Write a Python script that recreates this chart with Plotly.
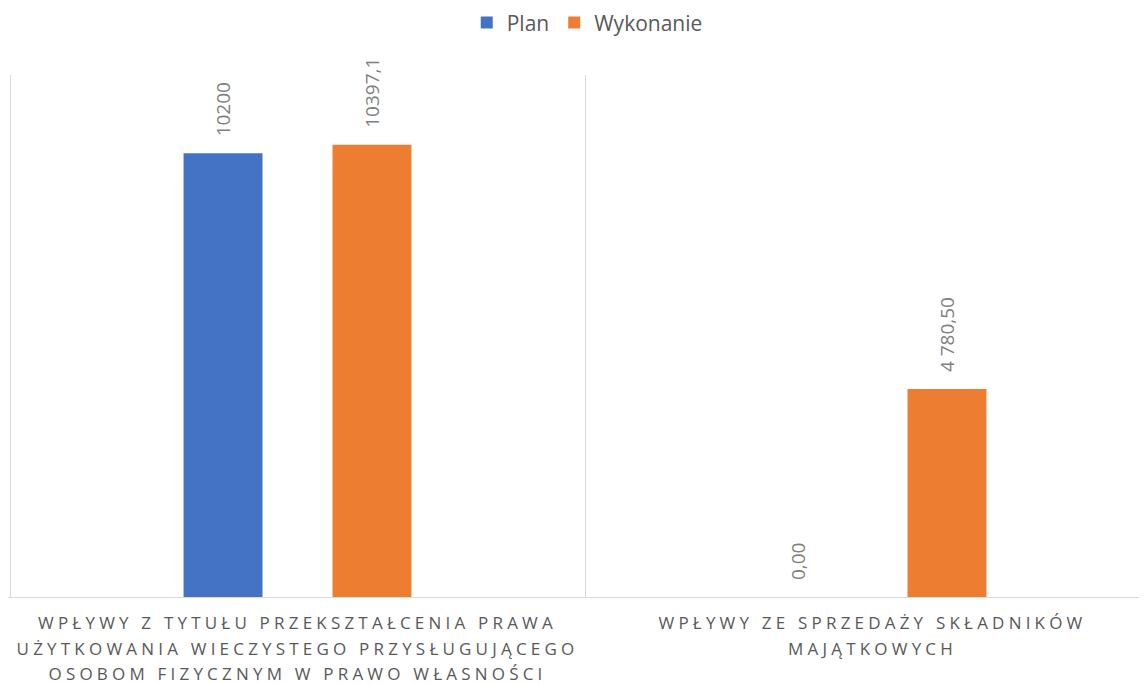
import plotly.graph_objects as go

categories = [
    "WPŁYWY Z TYTUŁU PRZEKSZTAŁCENIA PRAWA<br>UŻYTKOWANIA WIECZYSTEGO PRZYSŁUGUJĄCEGO<br>OSOBOM FIZYCZNYM W PRAWO WŁASNOŚCI",
    "WPŁYWY ZE SPRZEDAŻY SKŁADNIKÓW<br>MAJĄTKOWYCH",
]
plan_values = [10200, 0]
plan_labels = ["10200", "0,00"]
wyk_values = [10397.1, 4780.5]
wyk_labels = ["10397,1", "4 780,50"]

BLUE = "#4472C4"
ORANGE = "#ED7D31"
LABEL_GRAY = "#7F7F7F"
TEXT_GRAY = "#595959"
GRID = "#D9D9D9"
LABEL_PAD = 320  # gap between bar top and its data label, in value units

fig = go.Figure()
for name, vals, labels, color, grp in [
    ("Plan", plan_values, plan_labels, BLUE, "g1"),
    ("Wykonanie", wyk_values, wyk_labels, ORANGE, "g2"),
]:
    fig.add_trace(go.Bar(
        name=name, x=categories, y=vals, marker_color=color,
        marker_line_width=0, offsetgroup=grp, hoverinfo="x+y",
    ))
    # transparent spacer bar carrying the data label above the real bar
    fig.add_trace(go.Bar(
        name=name + " label", x=categories, y=[LABEL_PAD] * len(vals), base=vals,
        offsetgroup=grp, marker_color="rgba(0,0,0,0)", marker_line_width=0,
        showlegend=False,
        text=labels, textposition="outside", textangle=-90,
        textfont=dict(family="Open Sans", size=19, color=LABEL_GRAY),
        cliponaxis=False, hoverinfo="skip",
    ))

fig.update_layout(
    width=1147, height=684,
    margin=dict(l=0, r=0, t=67, b=95, autoexpand=False),
    paper_bgcolor="white", plot_bgcolor="white",
    barmode="group", bargap=0.482, bargroupgap=0.47,
    showlegend=True,
    legend=dict(orientation="h", x=0.505, xanchor="center", y=1.1, yanchor="middle",
                font=dict(family="Open Sans", size=21, color=TEXT_GRAY),
                itemwidth=30, traceorder="normal"),
    font=dict(family="Open Sans", color=TEXT_GRAY),
)
fig.update_xaxes(
    type="category", range=[-0.50348, 1.4913], automargin=False,
    showgrid=True, gridcolor=GRID, gridwidth=1, tickson="boundaries",
    showline=True, linecolor=GRID, linewidth=1,
    ticks="", tickangle=0, ticklabelstandoff=11,
    tickfont=dict(family="Open Sans", size=17, color=TEXT_GRAY),
)
fig.update_yaxes(range=[0, 12000], visible=False, showgrid=False, zeroline=False,
                 automargin=False)

post = """
var s = document.createElement('style');
s.textContent = '.xtick text { letter-spacing: 4.2px; }';
document.head.appendChild(s);
document.querySelectorAll('.xtick tspan.line').forEach(function (t) {
  var dy = t.getAttribute('dy');
  if (dy) { t.setAttribute('dy', (parseFloat(dy) / 1.3 * 1.5) + 'em'); }
});
"""

fig.write_html("out.html", post_script=post)
